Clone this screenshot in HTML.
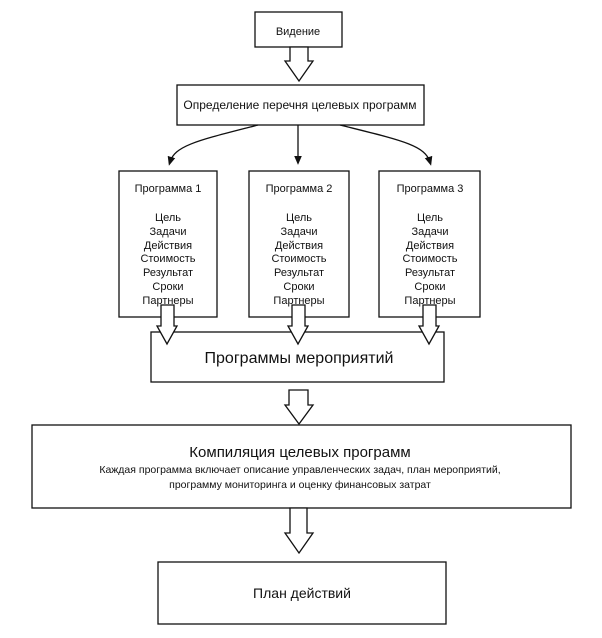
<!DOCTYPE html>
<html><head><meta charset="utf-8"><style>
body{margin:0;background:#fff;}
svg{display:block;}
text{font-family:"Liberation Sans","DejaVu Sans",sans-serif;fill:#111;text-anchor:middle;}
</style></head><body>
<svg width="602" height="638" viewBox="0 0 602 638" xmlns="http://www.w3.org/2000/svg">
<defs><marker id="a" markerWidth="8" markerHeight="8" refX="4" refY="4" orient="auto"><path d="M0,1 L7,4 L0,7 Z" fill="#111"/></marker></defs>
<g fill="none" stroke="#111" stroke-width="1.3">
<rect x="255" y="12" width="87" height="35"/>
<rect x="177" y="85" width="247" height="40"/>
<rect x="119" y="171" width="98" height="146"/>
<rect x="249" y="171" width="100" height="146"/>
<rect x="379" y="171" width="101" height="146"/>
<rect x="151" y="332" width="293" height="50"/>
<rect x="32" y="425" width="539" height="83"/>
<rect x="158" y="562" width="288" height="62"/>
<path d="M258,125 C200,140 175,145 170,162" marker-end="url(#a)"/>
<path d="M298,125 L298,161" marker-end="url(#a)"/>
<path d="M340,125 C400,140 425,145 430,162" marker-end="url(#a)"/>
</g>
<g fill="#fff" stroke="#111" stroke-width="1.3">
<path d="M290,47 L308,47 L308,61 L313,61 L299,81 L285,61 L290,61 Z"/>
<path d="M161,305 L174,305 L174,326 L177,326 L167,344 L157,326 L161,326 Z"/>
<path d="M292,305 L305,305 L305,326 L308,326 L298,344 L288,326 L292,326 Z"/>
<path d="M423,305 L436,305 L436,326 L439,326 L429,344 L419,326 L423,326 Z"/>
<path d="M289,390 L308,390 L308,405 L313,405 L299,424 L285,405 L289,405 Z"/>
<path d="M290,508 L307,508 L307,533 L313,533 L299,553 L285,533 L290,533 Z"/>
</g>
<text x="298" y="35" font-size="11">Видение</text>
<text x="300" y="109" font-size="12">Определение перечня целевых программ</text>
<g font-size="11">
<text x="168" y="192">Программа 1</text>
<text x="299" y="192">Программа 2</text>
<text x="430" y="192">Программа 3</text>
<g>
<text x="168" y="221">Цель</text><text x="168" y="235">Задачи</text><text x="168" y="249">Действия</text><text x="168" y="262">Стоимость</text><text x="168" y="276">Результат</text><text x="168" y="290">Сроки</text><text x="168" y="304">Партнеры</text>
</g>
<g transform="translate(131,0)"><text x="168" y="221">Цель</text><text x="168" y="235">Задачи</text><text x="168" y="249">Действия</text><text x="168" y="262">Стоимость</text><text x="168" y="276">Результат</text><text x="168" y="290">Сроки</text><text x="168" y="304">Партнеры</text></g>
<g transform="translate(262,0)"><text x="168" y="221">Цель</text><text x="168" y="235">Задачи</text><text x="168" y="249">Действия</text><text x="168" y="262">Стоимость</text><text x="168" y="276">Результат</text><text x="168" y="290">Сроки</text><text x="168" y="304">Партнеры</text></g>
</g>
<text x="299" y="363" font-size="16">Программы мероприятий</text>
<text x="300" y="457" font-size="15">Компиляция целевых программ</text>
<text x="300" y="473" font-size="10.5">Каждая программа включает описание управленческих задач, план мероприятий,</text>
<text x="300" y="488" font-size="10.5">программу мониторинга и оценку финансовых затрат</text>
<text x="302" y="598" font-size="14">План действий</text>
</svg>
</body></html>
